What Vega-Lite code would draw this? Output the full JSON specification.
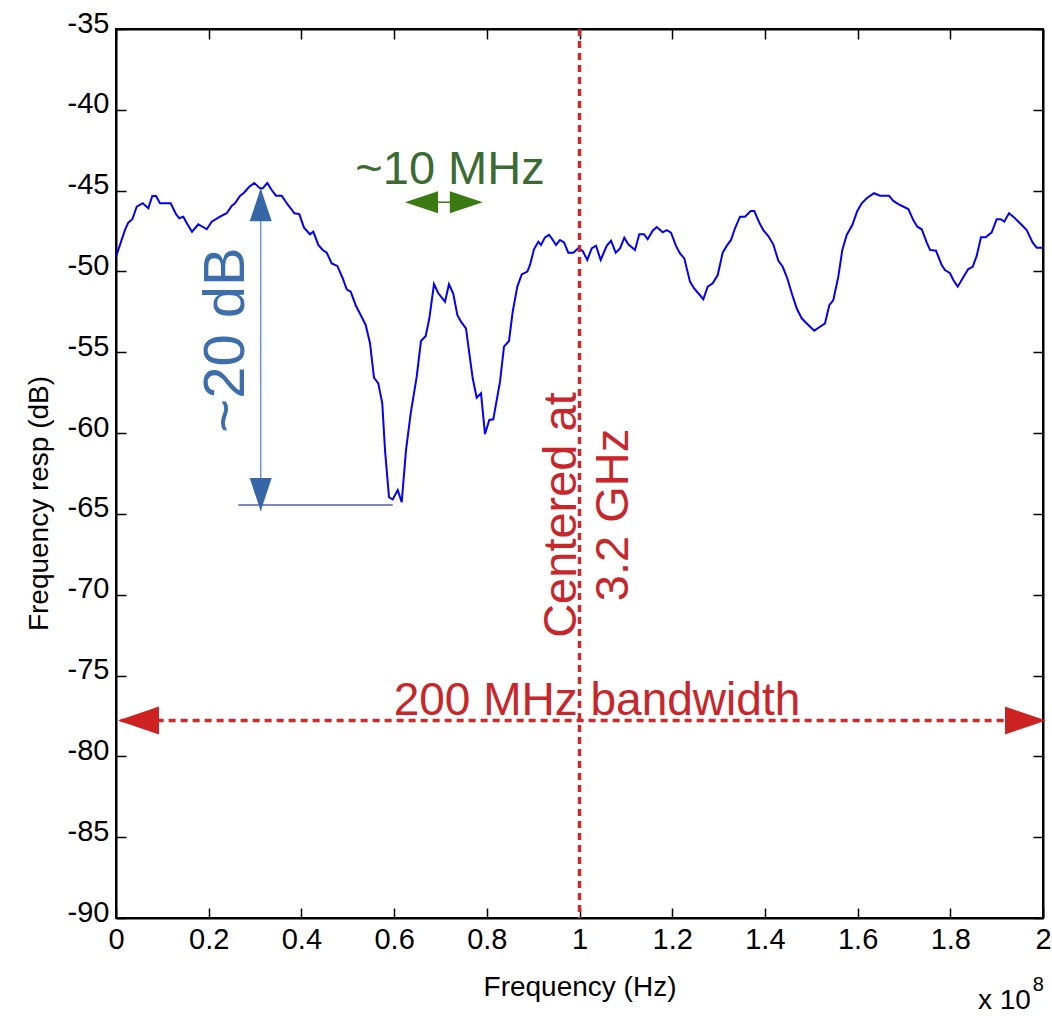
{
  "$schema": "https://vega.github.io/schema/vega-lite/v6.json",
  "width": 927,
  "height": 889,
  "autosize": {"type": "none"},
  "padding": {"left": 116, "top": 29, "right": 9, "bottom": 98},
  "background": "white",
  "config": {
    "view": {"stroke": "black", "strokeWidth": 2},
    "axis": {"grid": false, "domainColor": "black", "domainWidth": 2, "tickColor": "black", "tickWidth": 1.5, "labelColor": "black", "titleColor": "black", "labelFont": "Liberation Sans", "titleFont": "Liberation Sans", "labelFontSize": 29, "titleFontSize": 28, "titleFontWeight": "normal", "labelFlush": false, "labelOverlap": false, "labelBound": false}
  },
  "datasets": {
    "resp": [
      {"f":0,"db":-49.09},{"f":0.0194,"db":-47.43},{"f":0.0265,"db":-46.98},{"f":0.0352,"db":-46.77},{"f":0.0447,"db":-45.99},{"f":0.0576,"db":-45.78},{"f":0.0697,"db":-46.09},{"f":0.0783,"db":-45.33},{"f":0.0863,"db":-45.33},{"f":0.0949,"db":-45.78},{"f":0.118,"db":-45.78},{"f":0.1295,"db":-46.46},{"f":0.1366,"db":-46.71},{"f":0.1452,"db":-46.61},{"f":0.1538,"db":-47.06},{"f":0.164,"db":-47.54},{"f":0.1776,"db":-47.08},{"f":0.1957,"db":-47.39},{"f":0.2065,"db":-46.92},{"f":0.2244,"db":-46.61},{"f":0.2388,"db":-46.4},{"f":0.2496,"db":-45.95},{"f":0.2567,"db":-45.78},{"f":0.2675,"db":-45.33},{"f":0.2762,"db":-45.13},{"f":0.2876,"db":-44.76},{"f":0.2984,"db":-44.53},{"f":0.3107,"db":-44.86},{"f":0.3165,"db":-44.86},{"f":0.3264,"db":-44.53},{"f":0.3359,"db":-44.96},{"f":0.3452,"db":-45.31},{"f":0.3575,"db":-45.31},{"f":0.3683,"db":-45.78},{"f":0.3769,"db":-46.09},{"f":0.3847,"db":-46.4},{"f":0.3955,"db":-46.45},{"f":0.4056,"db":-47.29},{"f":0.4186,"db":-47.7},{"f":0.4257,"db":-47.54},{"f":0.4365,"db":-48.36},{"f":0.446,"db":-48.67},{"f":0.4546,"db":-48.84},{"f":0.4654,"db":-49.5},{"f":0.4775,"db":-49.66},{"f":0.4891,"db":-50.42},{"f":0.4977,"db":-51.1},{"f":0.5064,"db":-51.25},{"f":0.5178,"db":-52.14},{"f":0.5279,"db":-52.69},{"f":0.5387,"db":-53.31},{"f":0.548,"db":-54.44},{"f":0.5566,"db":-56.57},{"f":0.5659,"db":-56.92},{"f":0.5745,"db":-58.16},{"f":0.5804,"db":-61.05},{"f":0.589,"db":-63.97},{"f":0.597,"db":-64.1},{"f":0.6078,"db":-63.52},{"f":0.6164,"db":-64.28},{"f":0.6257,"db":-61.05},{"f":0.6358,"db":-58.78},{"f":0.6488,"db":-56.51},{"f":0.658,"db":-54.3},{"f":0.6682,"db":-53.99},{"f":0.676,"db":-52.9},{"f":0.6861,"db":-50.78},{"f":0.6954,"db":-51.35},{"f":0.7098,"db":-51.87},{"f":0.7184,"db":-50.79},{"f":0.7277,"db":-51.39},{"f":0.7364,"db":-52.69},{"f":0.7443,"db":-53.11},{"f":0.7551,"db":-53.52},{"f":0.7622,"db":-55.06},{"f":0.7696,"db":-56.61},{"f":0.7782,"db":-57.81},{"f":0.7875,"db":-57.54},{"f":0.7961,"db":-60.06},{"f":0.8054,"db":-59.19},{"f":0.814,"db":-59.15},{"f":0.8285,"db":-56.82},{"f":0.8371,"db":-54.65},{"f":0.8479,"db":-54.3},{"f":0.8559,"db":-52.49},{"f":0.8658,"db":-50.94},{"f":0.8753,"db":-50.18},{"f":0.8874,"db":-50.01},{"f":0.8932,"db":-49.6},{"f":0.9018,"db":-48.63},{"f":0.9111,"db":-48.16},{"f":0.9169,"db":-48.36},{"f":0.9256,"db":-47.89},{"f":0.9342,"db":-47.74},{"f":0.94,"db":-47.95},{"f":0.9493,"db":-48.36},{"f":0.9579,"db":-48.05},{"f":0.9666,"db":-48.2},{"f":0.9758,"db":-48.84},{"f":0.9866,"db":-48.84},{"f":0.9974,"db":-48.57},{"f":1.0069,"db":-48.73},{"f":1.0168,"db":-49.29},{"f":1.0263,"db":-48.57},{"f":1.0356,"db":-48.41},{"f":1.0457,"db":-49.29},{"f":1.0587,"db":-48.41},{"f":1.068,"db":-48.1},{"f":1.0781,"db":-48.84},{"f":1.0874,"db":-48.57},{"f":1.0967,"db":-47.91},{"f":1.1053,"db":-48.32},{"f":1.1197,"db":-48.67},{"f":1.129,"db":-47.7},{"f":1.1392,"db":-47.7},{"f":1.1471,"db":-48.01},{"f":1.1579,"db":-47.48},{"f":1.1666,"db":-47.25},{"f":1.1795,"db":-47.58},{"f":1.1881,"db":-47.44},{"f":1.1974,"db":-47.6},{"f":1.2082,"db":-48.42},{"f":1.2168,"db":-48.88},{"f":1.2261,"db":-49.19},{"f":1.2384,"db":-50.63},{"f":1.247,"db":-51.04},{"f":1.2563,"db":-51.35},{"f":1.2671,"db":-51.72},{"f":1.2766,"db":-50.94},{"f":1.2874,"db":-50.73},{"f":1.2982,"db":-50.22},{"f":1.3089,"db":-48.84},{"f":1.3176,"db":-48.42},{"f":1.3269,"db":-48.05},{"f":1.3355,"db":-47.33},{"f":1.3463,"db":-46.61},{"f":1.3571,"db":-46.61},{"f":1.3694,"db":-46.26},{"f":1.3771,"db":-46.26},{"f":1.3879,"db":-46.98},{"f":1.3966,"db":-47.44},{"f":1.4073,"db":-47.81},{"f":1.4181,"db":-48.32},{"f":1.4289,"db":-49.33},{"f":1.4384,"db":-49.71},{"f":1.4483,"db":-50.42},{"f":1.4591,"db":-51.46},{"f":1.4686,"db":-52.28},{"f":1.4794,"db":-52.9},{"f":1.4937,"db":-53.31},{"f":1.5066,"db":-53.66},{"f":1.5174,"db":-53.45},{"f":1.5297,"db":-53.21},{"f":1.539,"db":-52.08},{"f":1.5476,"db":-51.77},{"f":1.5584,"db":-50.32},{"f":1.567,"db":-48.67},{"f":1.5765,"db":-47.74},{"f":1.5886,"db":-47.13},{"f":1.5994,"db":-46.26},{"f":1.6089,"db":-45.78},{"f":1.6196,"db":-45.47},{"f":1.6354,"db":-45.16},{"f":1.6483,"db":-45.31},{"f":1.6678,"db":-45.31},{"f":1.677,"db":-45.64},{"f":1.6915,"db":-45.89},{"f":1.7094,"db":-46.14},{"f":1.7202,"db":-46.82},{"f":1.7288,"db":-47.23},{"f":1.7383,"db":-47.39},{"f":1.7491,"db":-48.2},{"f":1.7562,"db":-48.67},{"f":1.7692,"db":-48.72},{"f":1.7814,"db":-49.6},{"f":1.7886,"db":-49.91},{"f":1.7994,"db":-50.11},{"f":1.8065,"db":-50.53},{"f":1.816,"db":-50.94},{"f":1.828,"db":-50.36},{"f":1.8388,"db":-49.85},{"f":1.8483,"db":-49.71},{"f":1.8569,"db":-49.04},{"f":1.8662,"db":-47.89},{"f":1.8764,"db":-47.89},{"f":1.8893,"db":-47.58},{"f":1.9001,"db":-46.77},{"f":1.9087,"db":-46.77},{"f":1.9165,"db":-46.92},{"f":1.9266,"db":-46.4},{"f":1.9359,"db":-46.61},{"f":1.9504,"db":-47.02},{"f":1.9648,"db":-47.44},{"f":1.9778,"db":-48.22},{"f":1.9865,"db":-48.53},{"f":2.0,"db":-48.53}
    ],
    "center": [{"f": 1, "top": -35, "bottom": -90}],
    "band": [{"from": 0.01, "to": 1.99, "db": -77.78}],
    "bandLeft": [{"f": 0.0043, "db": -77.78}],
    "bandRight": [{"f": 2.0065, "db": -77.78}],
    "dipLine": [{"f": 0.3122, "top": -44.9, "bottom": -64.8}],
    "dipFloor": [{"from": 0.2639, "to": 0.597, "db": -64.45}],
    "dipUp": [{"f": 0.3122, "db": -44.855}],
    "dipDown": [{"f": 0.3122, "db": -64.82}],
    "width10": [{"from": 0.63, "to": 0.785, "db": -45.72}],
    "w10Left": [{"f": 0.6235, "db": -45.72}],
    "w10Right": [{"f": 0.7914, "db": -45.72}],
    "redRot": [{"f": 0.9925, "db": -65.07, "label": "Centered at"}, {"f": 1.1046, "db": -65.07, "label": "3.2 GHz"}],
    "redFlat": [{"f": 1.0377, "db": -77.44, "label": "200 MHz bandwidth"}],
    "blueText": [{"f": 0.2762, "db": -54.24, "label": "~20 dB"}],
    "greenText": [{"f": 0.7206, "db": -44.59, "label": "~10 MHz"}],
    "mult": [{"f": 1.974, "db": -95.6, "label": "x 10"}],
    "expo": [{"f": 1.978, "db": -94.5, "label": "8"}]
  },
  "resolve": {"axis": {"x": "independent", "y": "independent"}},
  "layer": [
    {
      "data": {"name": "resp"},
      "mark": {"type": "line", "color": "#0000ff", "strokeWidth": 2, "interpolate": "linear"},
      "encoding": {
        "x": {"field": "f", "type": "quantitative", "scale": {"domain": [0, 2], "nice": false, "zero": false},
              "axis": {"orient": "bottom", "values": [0, 0.2, 0.4, 0.6, 0.8, 1, 1.2, 1.4, 1.6, 1.8, 2], "labelExpr": "toString(datum.value)", "tickSize": -10, "labelPadding": 17, "labelBaseline": "top", "title": "Frequency (Hz)", "titleY": 77, "titleBaseline": "alphabetic"}},
        "y": {"field": "db", "type": "quantitative", "scale": {"domain": [-90, -35], "nice": false, "zero": false},
              "axis": {"orient": "left", "values": [-90, -85, -80, -75, -70, -65, -60, -55, -50, -45, -40, -35], "labelExpr": "toString(datum.value)", "tickSize": -10, "labelPadding": 17, "labelOffset": -6, "title": "Frequency resp (dB)", "titleAngle": 270, "titleX": -69, "titleY": 474, "titleAlign": "center", "titleBaseline": "alphabetic"}}
      }
    },
    {
      "data": {"name": "center"},
      "mark": {"type": "rule", "color": "#cc2a2a", "strokeWidth": 3.5, "strokeDash": [7, 5]},
      "encoding": {
        "x": {"field": "f", "type": "quantitative", "axis": {"orient": "top", "values": [0, 0.2, 0.4, 0.6, 0.8, 1, 1.2, 1.4, 1.6, 1.8, 2], "labels": false, "title": null, "tickSize": -10}},
        "y": {"field": "top", "type": "quantitative", "axis": {"orient": "right", "values": [-90, -85, -80, -75, -70, -65, -60, -55, -50, -45, -40, -35], "labels": false, "title": null, "tickSize": -10}},
        "y2": {"field": "bottom"}
      }
    },
    {
      "data": {"name": "band"},
      "mark": {"type": "rule", "color": "#cc2a2a", "strokeWidth": 3.5, "strokeDash": [7, 5]},
      "encoding": {
        "x": {"field": "from", "type": "quantitative", "axis": null},
        "x2": {"field": "to"},
        "y": {"field": "db", "type": "quantitative", "axis": null}
      }
    },
    {
      "data": {"name": "bandLeft"},
      "mark": {"type": "point", "shape": "M 0 0 L 2 -0.68 L 2 0.68 Z", "size": 1681, "filled": true, "opacity": 1, "color": "#cc2222", "strokeWidth": 0},
      "encoding": {"x": {"field": "f", "type": "quantitative", "axis": null}, "y": {"field": "db", "type": "quantitative", "axis": null}}
    },
    {
      "data": {"name": "bandRight"},
      "mark": {"type": "point", "shape": "M 0 0 L -2 -0.68 L -2 0.68 Z", "size": 1681, "filled": true, "opacity": 1, "color": "#cc2222", "strokeWidth": 0},
      "encoding": {"x": {"field": "f", "type": "quantitative", "axis": null}, "y": {"field": "db", "type": "quantitative", "axis": null}}
    },
    {
      "data": {"name": "dipLine"},
      "mark": {"type": "rule", "color": "#6b93d0", "strokeWidth": 1.5},
      "encoding": {
        "x": {"field": "f", "type": "quantitative", "axis": null},
        "y": {"field": "top", "type": "quantitative", "axis": null},
        "y2": {"field": "bottom"}
      }
    },
    {
      "data": {"name": "dipFloor"},
      "mark": {"type": "rule", "color": "#5560a8", "strokeWidth": 1.5},
      "encoding": {
        "x": {"field": "from", "type": "quantitative", "axis": null},
        "x2": {"field": "to"},
        "y": {"field": "db", "type": "quantitative", "axis": null}
      }
    },
    {
      "data": {"name": "dipUp"},
      "mark": {"type": "point", "shape": "M 0 0 L -0.667 2 L 0.667 2 Z", "size": 1089, "filled": true, "opacity": 1, "color": "#3566a6", "strokeWidth": 0},
      "encoding": {"x": {"field": "f", "type": "quantitative", "axis": null}, "y": {"field": "db", "type": "quantitative", "axis": null}}
    },
    {
      "data": {"name": "dipDown"},
      "mark": {"type": "point", "shape": "M 0 0 L -0.667 -2 L 0.667 -2 Z", "size": 1089, "filled": true, "opacity": 1, "color": "#3566a6", "strokeWidth": 0},
      "encoding": {"x": {"field": "f", "type": "quantitative", "axis": null}, "y": {"field": "db", "type": "quantitative", "axis": null}}
    },
    {
      "data": {"name": "width10"},
      "mark": {"type": "rule", "color": "#3a7a10", "strokeWidth": 1.5},
      "encoding": {
        "x": {"field": "from", "type": "quantitative", "axis": null},
        "x2": {"field": "to"},
        "y": {"field": "db", "type": "quantitative", "axis": null}
      }
    },
    {
      "data": {"name": "w10Left"},
      "mark": {"type": "point", "shape": "M 0 0 L 2 -0.667 L 2 0.667 Z", "size": 1089, "filled": true, "opacity": 1, "color": "#3a7a10", "strokeWidth": 0},
      "encoding": {"x": {"field": "f", "type": "quantitative", "axis": null}, "y": {"field": "db", "type": "quantitative", "axis": null}}
    },
    {
      "data": {"name": "w10Right"},
      "mark": {"type": "point", "shape": "M 0 0 L -2 -0.667 L -2 0.667 Z", "size": 1089, "filled": true, "opacity": 1, "color": "#3a7a10", "strokeWidth": 0},
      "encoding": {"x": {"field": "f", "type": "quantitative", "axis": null}, "y": {"field": "db", "type": "quantitative", "axis": null}}
    },
    {
      "data": {"name": "redRot"},
      "mark": {"type": "text", "angle": 270, "align": "center", "baseline": "alphabetic", "font": "Liberation Sans", "fontSize": 47, "color": "#c8262a"},
      "encoding": {"x": {"field": "f", "type": "quantitative", "axis": null}, "y": {"field": "db", "type": "quantitative", "axis": null}, "text": {"field": "label"}}
    },
    {
      "data": {"name": "redFlat"},
      "mark": {"type": "text", "align": "center", "baseline": "alphabetic", "font": "Liberation Sans", "fontSize": 46, "color": "#c8262a"},
      "encoding": {"x": {"field": "f", "type": "quantitative", "axis": null}, "y": {"field": "db", "type": "quantitative", "axis": null}, "text": {"field": "label"}}
    },
    {
      "data": {"name": "blueText"},
      "mark": {"type": "text", "angle": 270, "align": "center", "baseline": "alphabetic", "font": "Liberation Sans", "fontSize": 58, "color": "#3d6eac"},
      "encoding": {"x": {"field": "f", "type": "quantitative", "axis": null}, "y": {"field": "db", "type": "quantitative", "axis": null}, "text": {"field": "label"}}
    },
    {
      "data": {"name": "greenText"},
      "mark": {"type": "text", "align": "center", "baseline": "alphabetic", "font": "Liberation Sans", "fontSize": 47, "color": "#3b6b32"},
      "encoding": {"x": {"field": "f", "type": "quantitative", "axis": null}, "y": {"field": "db", "type": "quantitative", "axis": null}, "text": {"field": "label"}}
    },
    {
      "data": {"name": "mult"},
      "mark": {"type": "text", "align": "right", "baseline": "alphabetic", "font": "Liberation Sans", "fontSize": 28, "color": "black"},
      "encoding": {"x": {"field": "f", "type": "quantitative", "axis": null}, "y": {"field": "db", "type": "quantitative", "axis": null}, "text": {"field": "label"}}
    },
    {
      "data": {"name": "expo"},
      "mark": {"type": "text", "align": "left", "baseline": "alphabetic", "font": "Liberation Sans", "fontSize": 20, "color": "black"},
      "encoding": {"x": {"field": "f", "type": "quantitative", "axis": null}, "y": {"field": "db", "type": "quantitative", "axis": null}, "text": {"field": "label"}}
    }
  ]
}
